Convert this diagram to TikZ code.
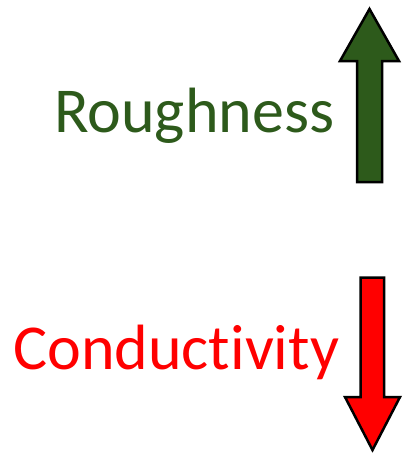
\documentclass[tikz,border=0pt]{standalone}
\usepackage{fontspec}
\setmainfont{Carlito}[RawFeature={-liga}]
\definecolor{dkgreen}{RGB}{45,90,27}
\definecolor{brred}{RGB}{255,0,0}
\begin{document}
\begin{tikzpicture}[x=1pt,y=-1pt,
  lbl/.style={font=\fontsize{64}{70}\selectfont, inner sep=0pt, anchor=base west},
  arrowshape/.style={draw=black, line width=2.5pt, line join=miter}]
\useasboundingbox (0,0) rectangle (409,456);
\node[lbl, text=dkgreen] (rough) at (54,132) {Roughness};
\node[lbl, text=brred] (cond) at (13,369) {Conductivity};
\fill[dkgreen, arrowshape] (357,182) -- (357,61) -- (340,61) -- (369.5,9) -- (399,61) -- (382,61) -- (382,182) -- cycle;
\fill[brred, arrowshape] (360.5,277.5) -- (384,277.5) -- (384,397) -- (400,397) -- (372.5,450) -- (345,397) -- (360.5,397) -- cycle;
\end{tikzpicture}
\end{document}
